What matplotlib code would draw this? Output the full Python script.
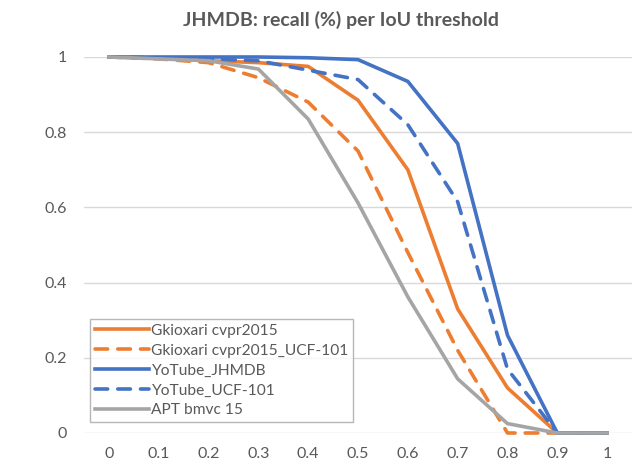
import matplotlib.pyplot as plt

# IoU thresholds
iou = [0, 0.1, 0.2, 0.3, 0.4, 0.5, 0.6, 0.7, 0.8, 0.9, 1.0]
iou_labels = ["0", "0.1", "0.2", "0.3", "0.4", "0.5", "0.6", "0.7", "0.8", "0.9", "1"]

# recall per method
gkioxari = [1.0, 0.997, 0.99, 0.985, 0.975, 0.885, 0.70, 0.33, 0.12, 0.0, 0.0]
gkioxari_ucf = [1.0, 0.995, 0.985, 0.945, 0.88, 0.75, 0.48, 0.22, 0.0, 0.0, 0.0]
youtube_jhmdb = [1.0, 1.0, 1.0, 1.0, 0.998, 0.993, 0.935, 0.77, 0.26, 0.0, 0.0]
youtube_ucf = [1.0, 0.998, 0.995, 0.99, 0.965, 0.94, 0.82, 0.615, 0.17, 0.0, 0.0]
apt = [1.0, 0.995, 0.99, 0.968, 0.835, 0.612, 0.362, 0.144, 0.025, 0.0, 0.0]

orange = "#ED7D31"
blue = "#4472C4"
gray = "#A5A5A5"
txt = "#595959"

plt.rcParams['font.family'] = ['Lato', 'DejaVu Sans']

fig = plt.figure(figsize=(6.32, 4.66), dpi=100)
ax = fig.add_axes([84 / 632, 33 / 466, 548 / 632, 376 / 466])

lw = 2.6
ax.plot(iou, gkioxari, color=orange, lw=lw, label="Gkioxari cvpr2015", clip_on=False)
ax.plot(iou, gkioxari_ucf, color=orange, lw=lw, dashes=(3.5, 2.8), dash_capstyle='round',
        label="Gkioxari cvpr2015_UCF-101", clip_on=False)
ax.plot(iou, youtube_jhmdb, color=blue, lw=lw, label="YoTube_JHMDB", clip_on=False)
ax.plot(iou, youtube_ucf, color=blue, lw=lw, dashes=(3.5, 2.8), dash_capstyle='round',
        label="YoTube_UCF-101", clip_on=False)
ax.plot(iou, apt, color=gray, lw=lw, label="APT bmvc 15", clip_on=False)

ax.set_xlim(-0.05, 1.0 + 25 / 501)
ax.set_ylim(0, 1)
ax.set_xticks(iou)
ax.set_xticklabels(iou_labels)
ax.set_yticks([0, 0.2, 0.4, 0.6, 0.8, 1.0])
ax.set_yticklabels(["0", "0.2", "0.4", "0.6", "0.8", "1"])
ax.tick_params(length=0, colors=txt, labelsize=11.5)
ax.tick_params(axis='x', pad=10)
ax.tick_params(axis='y', pad=12.5)

ax.grid(axis='y', color="#D9D9D9", lw=1)
ax.set_axisbelow(True)
for s in ax.spines.values():
    s.set_visible(False)

fig.text(341 / 632, 1 - 20 / 466, "JHMDB: recall (%) per IoU threshold", fontsize=14,
         fontweight='bold', color=txt, ha='center', va='center')

leg = ax.legend(loc='lower left', bbox_to_anchor=(6 / 548, 11 / 376), fontsize=11.2,
                frameon=True, fancybox=False, handlelength=3.5, handletextpad=0.15,
                labelspacing=0.38, borderpad=0.3, borderaxespad=0)
leg.get_frame().set_edgecolor("#A5A5A5")
leg.get_frame().set_linewidth(1)
for t in leg.get_texts():
    t.set_color(txt)

fig.savefig("out.png", dpi=100)
